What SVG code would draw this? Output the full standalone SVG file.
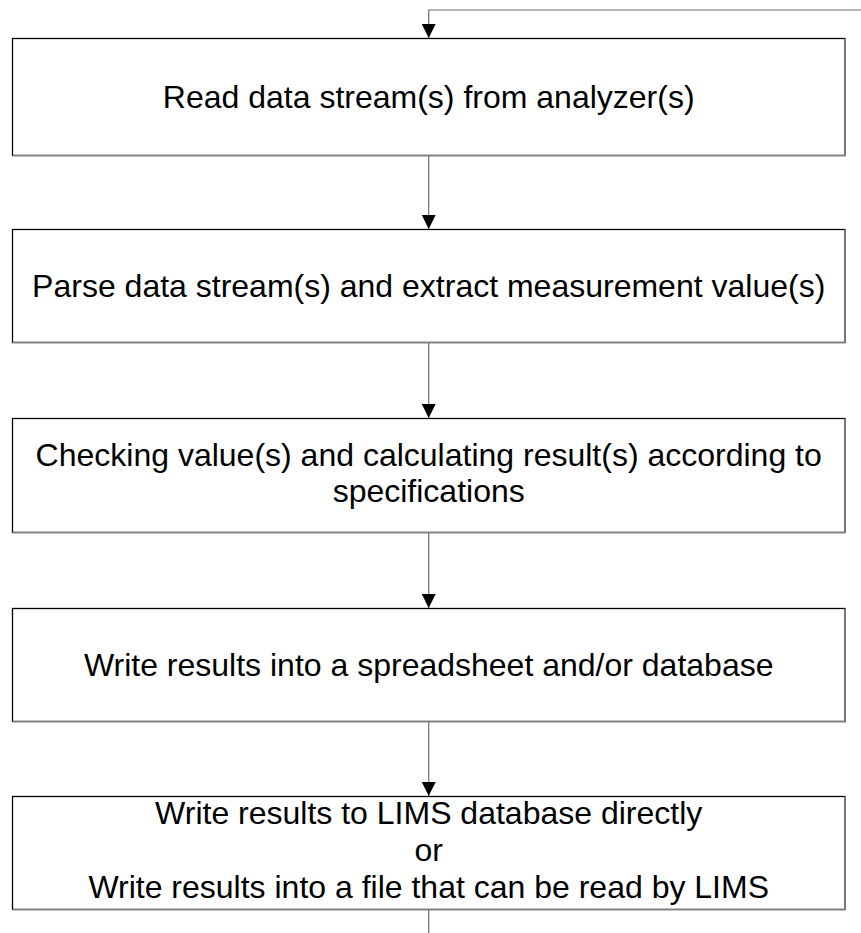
<svg xmlns="http://www.w3.org/2000/svg" width="861" height="933" viewBox="0 0 861 933">
<style>
.box{fill:#fff;stroke:#000;stroke-width:1.3}
.sh{fill:none;stroke:#7f7f7f;stroke-width:1.6}
.lbl{font-family:"Liberation Sans",Arial,sans-serif;font-size:32px;fill:#000;text-anchor:middle}
.con{fill:none;stroke:#6e6e6e;stroke-width:1.2}
</style>
<defs>
<marker id="ah" markerUnits="userSpaceOnUse" markerWidth="14" markerHeight="14" refX="14" refY="7" orient="auto" viewBox="0 0 14 14">
<path d="M0,0 L14,7 L0,14 Z" fill="#000"/>
</marker>
</defs>
<rect width="861" height="933" fill="#fff"/>
<g id="connectors">
<path class="con" d="M861,10 H428.7 V38" marker-end="url(#ah)"/>
<path class="con" d="M428.7,155.5 V229" marker-end="url(#ah)"/>
<path class="con" d="M428.7,342.5 V418" marker-end="url(#ah)"/>
<path class="con" d="M428.7,532.5 V608" marker-end="url(#ah)"/>
<path class="con" d="M428.7,721.5 V796" marker-end="url(#ah)"/>
<path class="con" d="M428.7,909.5 V933"/>
</g>
<g id="n1">
<rect class="box" x="12.5" y="38.5" width="832.5" height="117"/>
<path class="sh" d="M845,38.5 V155.5 H12.5"/>
<text class="lbl" x="428.7" y="108">Read data stream(s) from analyzer(s)</text>
</g>
<g id="n2">
<rect class="box" x="12.5" y="229.5" width="832.5" height="113"/>
<path class="sh" d="M845,229.5 V342.5 H12.5"/>
<text class="lbl" x="428.7" y="297">Parse data stream(s) and extract measurement value(s)</text>
</g>
<g id="n3">
<rect class="box" x="12.5" y="418.5" width="832.5" height="114"/>
<path class="sh" d="M845,418.5 V532.5 H12.5"/>
<text class="lbl" x="428.7" y="466">Checking value(s) and calculating result(s) according to</text>
<text class="lbl" x="428.7" y="502">specifications</text>
</g>
<g id="n4">
<rect class="box" x="12.5" y="608.5" width="832.5" height="113"/>
<path class="sh" d="M845,608.5 V721.5 H12.5"/>
<text class="lbl" x="428.7" y="676">Write results into a spreadsheet and/or database</text>
</g>
<g id="n5">
<rect class="box" x="12.5" y="796.5" width="832.5" height="113"/>
<path class="sh" d="M845,796.5 V909.5 H12.5"/>
<text class="lbl" x="428.7" y="824">Write results to LIMS database directly</text>
<text class="lbl" x="428.7" y="861">or</text>
<text class="lbl" x="428.7" y="898">Write results into a file that can be read by LIMS</text>
</g>
</svg>
